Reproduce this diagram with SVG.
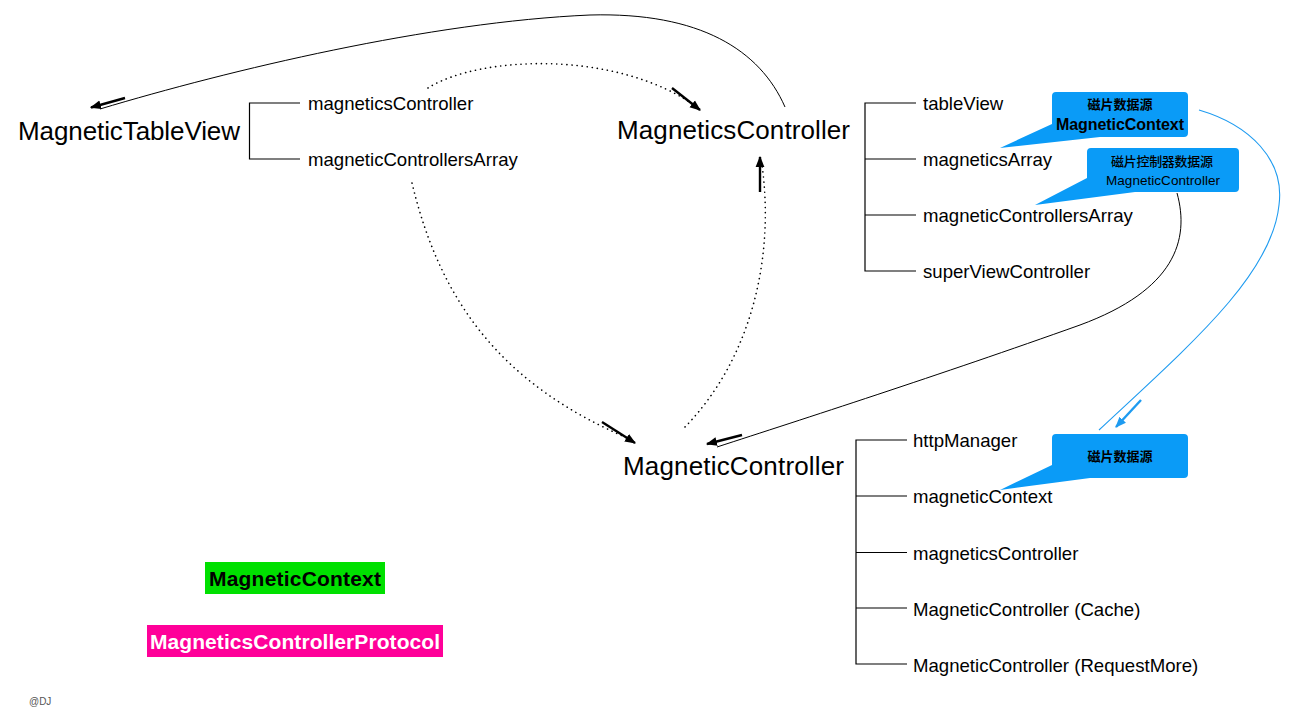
<svg xmlns="http://www.w3.org/2000/svg" width="1293" height="720" viewBox="0 0 1293 720">
<style>
text{font-family:"Liberation Sans",Arial,sans-serif;fill:#000}
.big{font-size:26px}
.item{font-size:18.6px}
.br{fill:none;stroke:#000;stroke-width:1.2}
.thin{fill:none;stroke:#000;stroke-width:1}
.dot{fill:none;stroke:#000;stroke-width:1.6;stroke-dasharray:0.1 5;stroke-linecap:round}
.stub{stroke:#000;stroke-width:2.4;fill:none}
.bstub{stroke:#1E9BF0;stroke-width:2.4;fill:none}
.callout{fill:#0A9BF7}
.ct{font-size:13px;text-anchor:middle}
.cjk{font-family:"Noto Sans CJK SC",sans-serif}
</style>
<defs>
<marker id="ah" viewBox="0 0 10 10" refX="9" refY="5" markerWidth="11" markerHeight="11" markerUnits="userSpaceOnUse" orient="auto"><path d="M0,1 L10,5 L0,9 z" fill="#000"/></marker>
<marker id="ahb" viewBox="0 0 10 10" refX="9" refY="5" markerWidth="11" markerHeight="11" markerUnits="userSpaceOnUse" orient="auto"><path d="M0,1 L10,5 L0,9 z" fill="#1E9BF0"/></marker>
</defs>
<rect width="1293" height="720" fill="#fff"/>

<g id="connectors">
<path class="thin" d="M785,107 C760,50 700,12 590,15 C430,22 230,70 100,109"/>
<line class="stub" x1="125" y1="98" x2="91" y2="107.5" marker-end="url(#ah)"/>
<path class="dot" d="M428,88 C480,55 620,50 698,108"/>
<line class="stub" x1="672" y1="88" x2="700" y2="110" marker-end="url(#ah)"/>
<path class="dot" d="M412,183 C440,300 500,385 632,440"/>
<line class="stub" x1="602" y1="422" x2="635" y2="443" marker-end="url(#ah)"/>
<path class="dot" d="M685,427 C750,360 775,260 762,165"/>
<line class="stub" x1="760" y1="192" x2="760" y2="157" marker-end="url(#ah)"/>
<path class="thin" d="M1177,193 C1190,240 1175,290 1080,325 C940,375 800,420 717,447"/>
<line class="stub" x1="742" y1="435" x2="707" y2="444" marker-end="url(#ah)"/>
<path fill="none" stroke="#1E9BF0" stroke-width="1.1" d="M1199,110 C1250,125 1285,160 1279,205 C1272,275 1190,345 1099,430"/>
<line class="bstub" x1="1141" y1="400" x2="1116" y2="427" marker-end="url(#ahb)"/>
</g>

<g id="node-tableview">
<text class="big" x="18" y="140" textLength="222">MagneticTableView</text>
<path class="br" d="M300,103 H249.5 V159 H300"/>
<text class="item" x="308" y="110">magneticsController</text>
<text class="item" x="308" y="166">magneticControllersArray</text>
</g>

<g id="node-magneticscontroller">
<text class="big" x="617" y="139" textLength="233">MagneticsController</text>
<path class="br" d="M916,103 H865 V271 H916 M865,159 H916 M865,215 H916"/>
<text class="item" x="923" y="110">tableView</text>
<text class="item" x="923" y="166">magneticsArray</text>
<text class="item" x="923" y="222">magneticControllersArray</text>
<text class="item" x="923" y="278">superViewController</text>
</g>

<g id="node-magneticcontroller">
<text class="big" x="623" y="475" textLength="221">MagneticController</text>
<path class="br" d="M907,440 H856 V664 H907 M856,496 H907 M856,552.5 H907 M856,608 H907"/>
<text class="item" x="913" y="447">httpManager</text>
<text class="item" x="913" y="503">magneticContext</text>
<text class="item" x="913" y="560">magneticsController</text>
<text class="item" x="913" y="616">MagneticController (Cache)</text>
<text class="item" x="913" y="672">MagneticController (RequestMore)</text>
</g>

<g id="callout-context">
<path class="callout" d="M1056,92 H1184 Q1188,92 1188,96 V133 Q1188,137 1184,137 H1100 L1000,148 L1052,124 V96 Q1052,92 1056,92 Z"/>
<text class="ct cjk" x="1120" y="109" style="font-weight:bold">磁片数据源</text>
<text class="ct" x="1120" y="130" style="font-size:16px;font-weight:bold" textLength="128">MagneticContext</text>
</g>

<g id="callout-controller">
<path class="callout" d="M1091,148 H1235 Q1239,148 1239,152 V188 Q1239,192 1235,192 H1135 L1035,205 L1087,178 V152 Q1087,148 1091,148 Z"/>
<text class="ct cjk" x="1162" y="166" style="font-weight:500" textLength="102">磁片控制器数据源</text>
<text class="ct" x="1163" y="185" style="font-size:13.5px" textLength="114">MagneticController</text>
</g>

<g id="callout-context2">
<path class="callout" d="M1056,434 H1184 Q1188,434 1188,438 V474 Q1188,478 1184,478 H1090 L1000,490 L1052,465 V438 Q1052,434 1056,434 Z"/>
<text class="ct cjk" x="1120" y="461" style="font-weight:bold">磁片数据源</text>
</g>

<g id="legend-context">
<rect x="205" y="562" width="180" height="32" fill="#00E000"/>
<text x="209" y="586" style="font-size:21px;font-weight:bold" textLength="172">MagneticContext</text>
</g>

<g id="legend-protocol">
<rect x="147" y="625" width="296" height="32" fill="#FF0099"/>
<text x="150" y="649" style="font-size:21px;font-weight:bold;fill:#fff" textLength="290">MagneticsControllerProtocol</text>
</g>

<text x="29" y="705" style="font-size:10px;fill:#555">@DJ</text>
</svg>
